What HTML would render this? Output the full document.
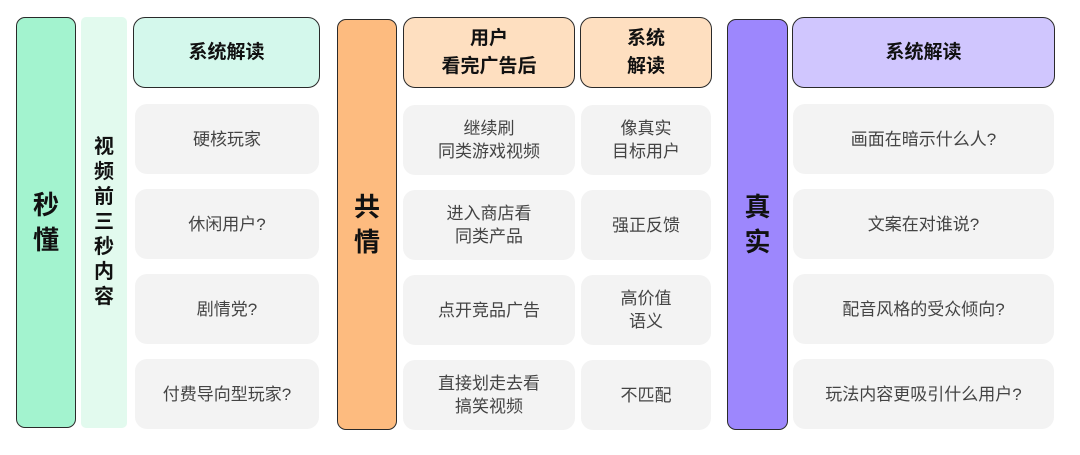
<!DOCTYPE html>
<html><head><meta charset="utf-8"><style>
body{margin:0;width:1080px;height:455px;background:#fff;position:relative;overflow:hidden;font-family:"Liberation Sans","Noto Sans CJK SC",sans-serif}
div{position:absolute;box-sizing:border-box;display:flex;align-items:center;justify-content:center;text-align:center}
.bar{border:1.5px solid #2a2a2a;border-radius:9px;font-weight:bold;font-size:26px;line-height:35px;color:#111}
.hd{border:1.5px solid #2a2a2a;border-radius:12px;font-weight:bold;font-size:19px;line-height:28px;color:#111}
.c{background:#f3f3f3;border-radius:12px;font-size:17px;line-height:23px;color:#444}
</style></head><body>
<div class="bar" style="left:16px;top:17px;width:60px;height:411px;background:#a3f3cf">秒<br>懂</div>
<div style="left:81px;top:17px;width:46px;height:411px;background:#e2faee;border-radius:5px;font-weight:bold;font-size:20px;line-height:25px;color:#111">视<br>频<br>前<br>三<br>秒<br>内<br>容</div>
<div class="hd" style="left:133px;top:17px;width:187px;height:71px;background:#d4f8ec">系统解读</div>
<div class="c" style="left:135px;top:104px;width:184px;height:70px">硬核玩家</div>
<div class="c" style="left:135px;top:189px;width:184px;height:70px">休闲用户?</div>
<div class="c" style="left:135px;top:274px;width:184px;height:70px">剧情党?</div>
<div class="c" style="left:135px;top:359px;width:184px;height:70px">付费导向型玩家?</div>

<div class="bar" style="left:337px;top:19px;width:60px;height:411px;background:#fdbb7f">共<br>情</div>
<div class="hd" style="left:403px;top:17px;width:172px;height:71px;background:#fedfc0">用户<br>看完广告后</div>
<div class="hd" style="left:580px;top:17px;width:132px;height:71px;background:#fedfc0">系统<br>解读</div>
<div class="c" style="left:403px;top:105px;width:172px;height:70px">继续刷<br>同类游戏视频</div>
<div class="c" style="left:581px;top:105px;width:130px;height:70px">像真实<br>目标用户</div>
<div class="c" style="left:403px;top:190px;width:172px;height:70px">进入商店看<br>同类产品</div>
<div class="c" style="left:581px;top:190px;width:130px;height:70px">强正反馈</div>
<div class="c" style="left:403px;top:275px;width:172px;height:70px">点开竞品广告</div>
<div class="c" style="left:581px;top:275px;width:130px;height:70px">高价值<br>语义</div>
<div class="c" style="left:403px;top:360px;width:172px;height:70px">直接划走去看<br>搞笑视频</div>
<div class="c" style="left:581px;top:360px;width:130px;height:70px">不匹配</div>

<div class="bar" style="left:727px;top:19px;width:61px;height:411px;background:#9d87fd">真<br>实</div>
<div class="hd" style="left:792px;top:17px;width:263px;height:71px;background:#d0c6fe">系统解读</div>
<div class="c" style="left:793px;top:104px;width:261px;height:70px">画面在暗示什么人?</div>
<div class="c" style="left:793px;top:189px;width:261px;height:70px">文案在对谁说?</div>
<div class="c" style="left:793px;top:274px;width:261px;height:70px">配音风格的受众倾向?</div>
<div class="c" style="left:793px;top:359px;width:261px;height:70px">玩法内容更吸引什么用户?</div>
</body></html>
